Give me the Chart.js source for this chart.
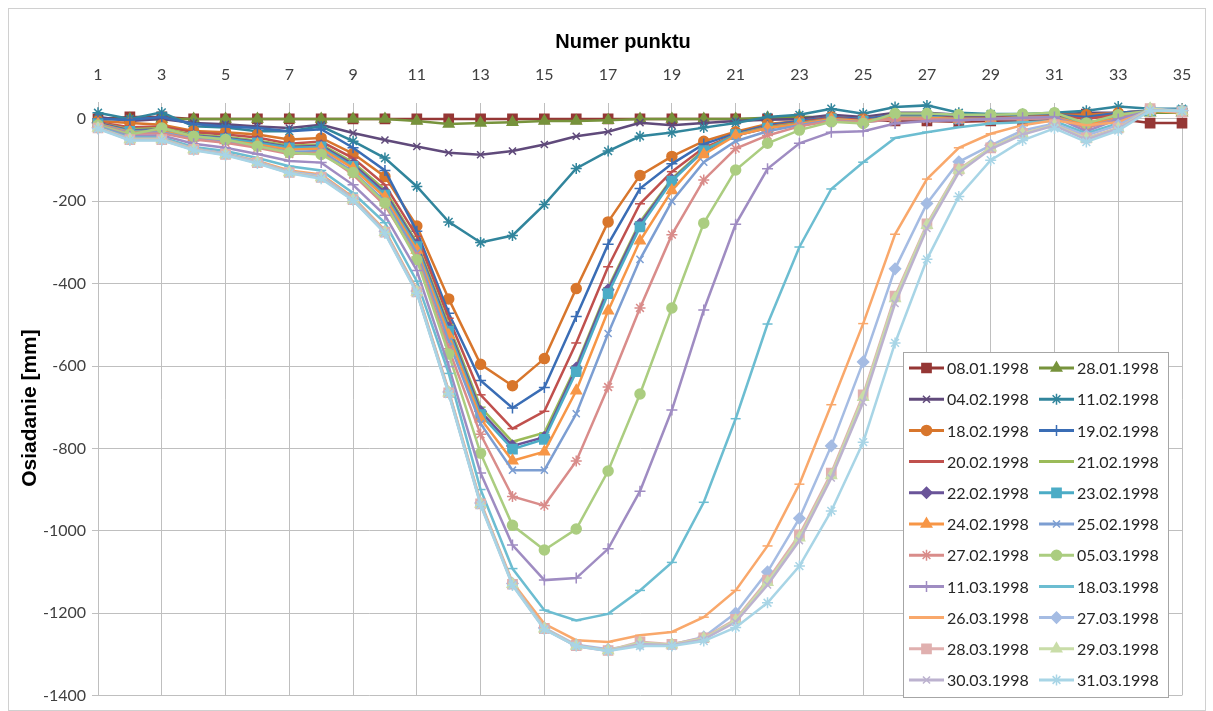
<!DOCTYPE html>
<html>
<head>
<meta charset="utf-8">
<script src="https://cdn.jsdelivr.net/npm/chart.js@4.4.0/dist/chart.umd.min.js"></script>
<style>
    html, body { margin: 0; padding: 0; background: #fff; }
    #wrap { position: relative; width: 1213px; height: 711px; }
</style>
</head>
<body>
<div id="wrap"><canvas id="chart-osiadanie" width="1213" height="711"></canvas></div>
<script>
// ── Osiadanie terenu — profile po numerach punktów ───────────────────────────

var punkty = [];
for (var p = 1; p <= 35; p++) punkty.push(p);

var yTicks = [0, -200, -400, -600, -800, -1000, -1200, -1400];

var dates = ['08.01.1998', '28.01.1998', '04.02.1998', '11.02.1998', '18.02.1998', '19.02.1998',
             '20.02.1998', '21.02.1998', '22.02.1998', '23.02.1998', '24.02.1998', '25.02.1998',
             '27.02.1998', '05.03.1998', '11.03.1998', '18.03.1998', '26.03.1998', '27.03.1998',
             '28.03.1998', '29.03.1998', '30.03.1998', '31.03.1998'];

var s0801 = [0, 5, 5, 0, 0, 0, 0, 0, 0, 0, 0, 0, 0, 0, 0, 0, 0, 0, 0, 0, 0, 0, 0, 0, -3, -5, -5, -7, -5, -5, -3, 12, 0, -10, -10];
var s2801 = [0, 0, 0, 0, 0, 0, 0, 0, 0, 0, -5, -12, -10, -8, -5, -5, -3, 0, 0, 0, 0, 3, 5, 5, 0, 5, 5, 5, 5, 5, 5, 5, 10, 15, 15];
var s0402 = [5, -5, 0, -10, -13, -18, -22, -14, -34, -51, -67, -82, -87, -78, -62, -42, -31, -9, -15, -10, -5, -2, 0, 10, 5, 15, 15, 10, 10, 10, 10, 15, 15, 20, 20];
var s1102 = [15, 0, 16, -18, -21, -30, -30, -18, -54, -95, -164, -250, -300, -283, -208, -120, -78, -42, -33, -21, -10, 5, 10, 25, 13, 29, 33, 15, 12, 12, 15, 20, 30, 25, 25];
var s1802 = [-5, -10, -14, -29, -32, -38, -50, -46, -84, -140, -260, -437, -596, -648, -582, -412, -250, -137, -91, -54, -31, -12, -5, 5, 0, 10, 10, 5, 5, 8, 10, 10, 15, 20, 20];
var s1902 = [0, -2, 5, -12, -18, -22, -30, -25, -70, -125, -273, -472, -635, -702, -652, -480, -304, -169, -109, -61, -35, -15, -5, 5, 0, 10, 10, 5, 5, 8, 10, 5, 15, 20, 20];
var s2002 = [-8, -20, -18, -32, -38, -45, -60, -55, -95, -160, -285, -484, -670, -752, -710, -544, -359, -206, -128, -70, -38, -18, -8, 3, -3, 5, 5, 3, 3, 5, 8, 0, 10, 20, 20];
var s2102 = [-10, -25, -22, -38, -44, -52, -65, -62, -105, -172, -300, -500, -700, -784, -762, -600, -410, -250, -145, -75, -38, -20, -10, 0, -5, 5, 5, 0, 0, 5, 5, -10, 5, 20, 20];
var s2202 = [-10, -28, -25, -40, -46, -55, -68, -65, -110, -178, -305, -508, -710, -794, -773, -605, -415, -255, -148, -78, -40, -22, -12, 0, -5, 3, 3, 0, 0, 3, 5, -12, 5, 20, 20];
var s2302 = [-12, -30, -28, -42, -48, -58, -70, -68, -115, -185, -310, -515, -718, -802, -778, -614, -424, -262, -151, -77, -38, -22, -12, 0, -5, 5, 5, 0, 0, 3, 5, -12, 5, 20, 20];
var s2402 = [-12, -32, -30, -45, -52, -62, -75, -72, -120, -190, -318, -525, -728, -830, -808, -660, -466, -296, -174, -86, -40, -22, -12, 0, -5, 3, 3, 0, 0, 3, 5, -15, 3, 20, 20];
var s2502 = [-14, -34, -32, -48, -55, -66, -80, -78, -128, -200, -325, -540, -740, -853, -853, -716, -521, -341, -200, -105, -54, -30, -15, -3, -8, 0, 0, -3, 0, 0, 3, -20, 0, 20, 20];
var s2702 = [-15, -36, -35, -50, -58, -70, -85, -82, -135, -210, -335, -558, -766, -917, -939, -831, -651, -459, -281, -148, -72, -40, -18, -5, -8, 0, 0, -3, 0, 0, 3, -22, 0, 20, 20];
var s0503 = [-15, -38, -22, -42, -50, -66, -82, -86, -130, -204, -342, -571, -812, -987, -1047, -996, -855, -668, -459, -253, -124, -59, -27, -7, -11, 13, 13, 10, 10, 12, 15, -10, 10, 20, 20];
var s1103 = [-18, -42, -40, -60, -70, -85, -102, -106, -160, -234, -368, -601, -860, -1035, -1120, -1115, -1044, -904, -707, -464, -256, -121, -59, -32, -30, -11, -5, -3, 0, 3, 5, -30, 0, 20, 20];
var s1803 = [-20, -45, -45, -68, -78, -95, -115, -125, -180, -252, -394, -618, -900, -1092, -1193, -1218, -1202, -1145, -1077, -931, -728, -498, -311, -170, -105, -46, -32, -20, -11, -8, -5, -35, -10, 20, 20];
var s2603 = [-22, -48, -48, -72, -84, -102, -125, -135, -190, -270, -415, -660, -930, -1125, -1226, -1266, -1270, -1254, -1246, -1210, -1145, -1037, -887, -694, -497, -280, -146, -70, -36, -15, -3, -15, -8, 20, 15];
var s2703 = [-22, -48, -48, -72, -84, -104, -128, -138, -193, -273, -418, -663, -933, -1128, -1236, -1277, -1288, -1276, -1276, -1258, -1200, -1100, -970, -794, -590, -364, -205, -104, -64, -28, -11, -40, -15, 25, 21];
var s2803 = [-22, -50, -50, -74, -86, -106, -130, -142, -196, -275, -420, -665, -935, -1130, -1238, -1279, -1291, -1270, -1276, -1260, -1215, -1120, -1010, -860, -670, -430, -255, -122, -70, -35, -14, -46, -22, 25, 17];
var s2903 = [-22, -50, -50, -74, -86, -106, -130, -142, -196, -275, -420, -665, -935, -1130, -1238, -1280, -1291, -1272, -1277, -1262, -1218, -1125, -1017, -866, -676, -436, -258, -124, -70, -36, -15, -48, -23, 25, 18];
var s3003 = [-23, -51, -51, -75, -87, -107, -131, -143, -197, -276, -421, -666, -936, -1131, -1239, -1281, -1292, -1275, -1278, -1264, -1222, -1132, -1024, -872, -688, -448, -266, -130, -73, -38, -16, -50, -24, 22, 18];
var s3103 = [-24, -52, -52, -76, -88, -108, -132, -145, -198, -278, -423, -668, -938, -1133, -1240, -1280, -1292, -1280, -1280, -1268, -1235, -1175, -1086, -952, -785, -544, -341, -188, -100, -52, -23, -56, -28, 20, 20];

var values = [s0801, s2801, s0402, s1102, s1802, s1902, s2002, s2102, s2202, s2302, s2402,
              s2502, s2702, s0503, s1103, s1803, s2603, s2703, s2803, s2903, s3003, s3103];

// Excel-like colours and marker shapes, in legend order
var colors = ['#953735', '#77933C', '#604A7B', '#31859C', '#D8762C', '#3A6DB5',
              '#C0504D', '#9BBB59', '#6A5499', '#4BACC6', '#F79646', '#7C9ED2',
              '#D98C8A', '#ABCD80', '#9F8CC2', '#6CBDD1', '#F9A86B', '#A5BCE3',
              '#E0B0AF', '#C9DDA8', '#BCB2CF', '#A8D5E6'];
var markers = ['rect', 'triangle', 'crossRot', 'star', 'circle', 'cross',
               'line', 'line', 'rectRot', 'rect', 'triangle', 'crossRot',
               'star', 'circle', 'cross', 'line', 'line', 'rectRot',
               'rect', 'triangle', 'crossRot', 'star'];
var markerSize = { rect: 6.5, triangle: 6, crossRot: 5, star: 5.5, circle: 5, cross: 5.5, rectRot: 5.5, line: 5 };

var datasets = dates.map(function (d, i) {
    return {
        label: d,
        data: punkty.map(function (x, j) { return { x: x, y: values[i][j] }; }),
        borderColor: colors[i],
        backgroundColor: colors[i],
        borderWidth: 2.5,
        pointStyle: markers[i],
        pointRadius: markerSize[markers[i]],
        pointBorderWidth: 1.5,
        pointBackgroundColor: colors[i],
        pointBorderColor: colors[i],
        tension: 0,
        fill: false,
        clip: false,
        order: -i   // later dates drawn on top, as in Excel
    };
});

var FONT = 'Lato, "Open Sans", sans-serif';

// Frame, axis titles
var decorPlugin = {
    id: 'decor',
    beforeDraw: function (chart) {
        var ctx = chart.ctx;
        ctx.save();
        ctx.fillStyle = '#fff';
        ctx.fillRect(0, 0, chart.width, chart.height);
        ctx.strokeStyle = '#d0d0d0';
        ctx.lineWidth = 1;
        ctx.strokeRect(8.5, 8.5, 1197, 702);
        ctx.restore();
    },
    afterDraw: function (chart) {
        var ctx = chart.ctx;
        ctx.save();
        ctx.fillStyle = '#000';
        ctx.font = 'bold 20px "Liberation Sans", Arial, sans-serif';
        ctx.textAlign = 'center';
        ctx.textBaseline = 'middle';
        ctx.fillText('Numer punktu', 623, 42);
        ctx.translate(30, 408);
        ctx.rotate(-Math.PI / 2);
        ctx.font = 'bold 21px "Liberation Sans", Arial, sans-serif';
        ctx.fillText('Osiadanie [mm]', 0, 0);
        ctx.restore();
    }
};

// Legend box inside the plot, two columns
var legendPlugin = {
    id: 'boxLegend',
    afterDraw: function (chart) {
        var ctx = chart.ctx;
        ctx.save();
        ctx.fillStyle = '#fff';
        ctx.fillRect(903, 352, 265, 345);
        ctx.strokeStyle = '#a6a6a6';
        ctx.lineWidth = 1;
        ctx.strokeRect(903.5, 352.5, 265, 345);
        ctx.font = '16px ' + FONT;
        ctx.textAlign = 'left';
        ctx.textBaseline = 'middle';
        chart.data.datasets.forEach(function (ds, i) {
            var col = i % 2, row = Math.floor(i / 2);
            var x0 = col ? 1039 : 909;
            var y = 368 + row * 31.2;
            ctx.strokeStyle = ds.borderColor;
            ctx.lineWidth = 3;
            ctx.beginPath();
            ctx.moveTo(x0, y);
            ctx.lineTo(x0 + 35, y);
            ctx.stroke();
            if (ds.pointStyle !== 'line') {
                ctx.fillStyle = ds.pointBackgroundColor;
                ctx.strokeStyle = ds.pointBorderColor;
                ctx.lineWidth = ds.pointBorderWidth;
                Chart.helpers.drawPoint(ctx, {
                    pointStyle: ds.pointStyle, radius: ds.pointRadius, rotation: 0, borderWidth: ds.pointBorderWidth
                }, x0 + 17.5, y);
            }
            ctx.fillStyle = '#262626';
            ctx.fillText(ds.label, x0 + 38, y + 1);
        });
        ctx.restore();
    }
};

/* global Chart */
new Chart(document.getElementById('chart-osiadanie'), {
    type: 'line',
    data: { datasets: datasets },
    options: {
        responsive: false,
        animation: false,
        layout: { padding: { left: 0, top: 0, right: 31, bottom: 13 } },
        plugins: {
            legend: { display: false },
            tooltip: { enabled: false }
        },
        scales: {
            x: {
                type: 'linear',
                position: 'top',
                min: 1,
                max: 35,
                ticks: {
                    stepSize: 2,
                    autoSkip: false,
                    maxRotation: 0,
                    padding: 18,
                    color: '#404040',
                    font: { family: FONT, size: 16 }
                },
                grid: { color: '#bfbfbf', lineWidth: 1, drawTicks: false },
                border: { display: false },
                afterFit: function (s) { s.height = 102.5; }
            },
            y: {
                min: -1400,
                max: 40,
                afterBuildTicks: function (s) {
                    s.ticks = yTicks.map(function (v) { return { value: v }; });
                },
                ticks: {
                    padding: 6,
                    color: '#404040',
                    font: { family: FONT, size: 16 },
                    callback: function (v) { return String(v); }
                },
                grid: { color: '#bfbfbf', lineWidth: 1, tickLength: 6 },
                border: { display: true, color: '#bfbfbf' },
                afterFit: function (s) { s.width = 98; }
            }
        }
    },
    plugins: [decorPlugin, legendPlugin]
});
</script>
</body>
</html>
